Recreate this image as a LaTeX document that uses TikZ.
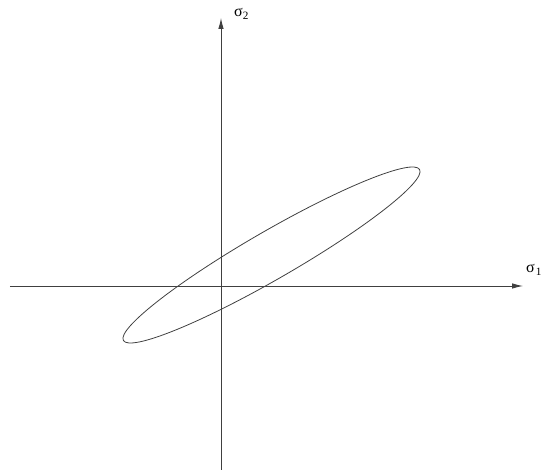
\documentclass[tikz,border=0pt]{standalone}
\usepackage{fontspec}
\setmainfont{Liberation Serif}
\usetikzlibrary{arrows.meta}
\begin{document}
\begin{tikzpicture}[x=1pt,y=1pt]
                \useasboundingbox (-221,-184) rectangle (323,286);
                \tikzset{axis/.style={draw=black!75, line width=0.9pt, -{Latex[length=11pt,width=5.5pt]}},
                         lbl/.style={inner sep=0pt, anchor=base west, font=\fontsize{16}{18}\selectfont}}
                \coordinate (west) at (-211,0);
                \coordinate (east) at (302,0);
                \coordinate (south) at (0,-186);
                \coordinate (north) at (0,268);
                \draw[axis] (west) -- (east);
                \draw[axis] (south) -- (north);
                \node[lbl] (s1) at (305,13) {σ\kern1pt\textsubscript{1}};
                \node[lbl] (s2) at (13,269) {σ\textsubscript{2}};
                
                % Tilted ellipse
                \draw[black!75, line width=0.8pt, rotate around={30:(50.5,31)}] (50.5,31) ellipse (171 and 24);
            \end{tikzpicture}
\end{document}
